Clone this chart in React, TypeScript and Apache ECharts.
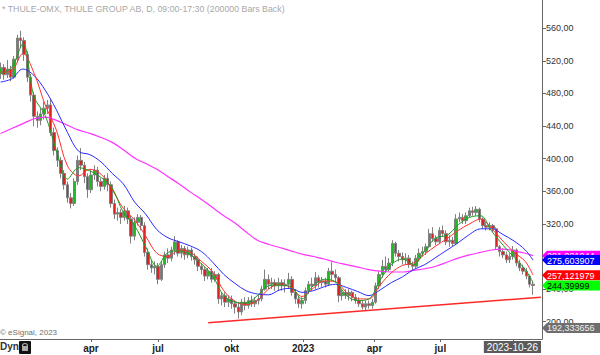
import React, { useEffect, useRef } from 'react';
import * as echarts from 'echarts';

const TITLE = '* THULE-OMX, THULE GROUP AB, D, 09:00-17:30 (200000 Bars Back)';
const COPYRIGHT = '\u00A9 eSignal, 2023';
const LAST_DATE = '2023-10-26';

// x axis: trading-day index (0 = 2021-12-01)
const quarterDays = [85, 145, 211, 275, 339, 398, 463];
const quarterLabels = ['apr', 'jul', 'okt', '2023', 'apr', 'jul', ''];
const priceTicks = [200, 240, 280, 320, 360, 400, 440, 480, 520, 560];
// 280,00 is fully hidden behind the price tags in the reference
const priceLabels = [200, 240, 320, 360, 400, 440, 480, 520, 560];

// each candle aggregates 3 trading days, first one starts at day 4
const firstBarDay = 4;
const daysPerBar = 3;

const opens = [
  505, 512, 503, 510, 500, 522, 548, 545, 528, 500, 478, 452, 447, 455, 462, 466, 432, 410, 398, 382,
  368, 352, 345, 372, 398, 392, 378, 362, 380, 386, 372, 366, 376, 368, 345, 332, 334, 328, 336, 326,
  305, 322, 328, 318, 285, 270, 266, 268, 252, 270, 282, 278, 288, 298, 284, 290, 282, 288, 280, 276,
  268, 264, 256, 262, 252, 258, 228, 232, 224, 228, 222, 218, 212, 224, 220, 226, 222, 226, 228, 240,
  252, 246, 248, 244, 248, 244, 246, 252, 236, 228, 222, 226, 238, 246, 244, 254, 248, 250, 246, 262,
  258, 254, 232, 236, 232, 236, 230, 226, 222, 218, 222, 220, 224, 244, 258, 268, 264, 272, 296, 284,
  280, 276, 278, 270, 268, 278, 284, 286, 292, 308, 302, 298, 312, 308, 298, 300, 296, 326, 328, 324,
  330, 336, 334, 338, 326, 318, 316, 318, 314, 292, 286, 282, 276, 280, 288, 272, 266, 262, 256, 246,
];
const closes = [
  512, 503, 510, 500, 522, 548, 545, 528, 500, 478, 452, 447, 455, 462, 466, 432, 410, 398, 382, 368,
  352, 345, 372, 398, 392, 378, 362, 380, 386, 372, 366, 376, 368, 345, 332, 334, 328, 336, 326, 305,
  322, 328, 318, 285, 270, 266, 268, 252, 270, 282, 278, 288, 298, 284, 290, 282, 288, 280, 276, 268,
  264, 256, 262, 252, 258, 228, 232, 224, 228, 222, 218, 212, 224, 220, 226, 222, 226, 228, 240, 252,
  246, 248, 244, 248, 244, 246, 252, 236, 228, 222, 226, 238, 246, 244, 254, 248, 250, 246, 262, 258,
  254, 232, 236, 232, 236, 230, 226, 222, 218, 222, 220, 224, 244, 258, 268, 264, 272, 296, 284, 280,
  276, 278, 270, 268, 278, 284, 286, 292, 308, 302, 298, 312, 308, 298, 300, 296, 326, 328, 324, 330,
  336, 334, 338, 326, 318, 316, 318, 314, 292, 286, 282, 276, 280, 288, 272, 266, 262, 256, 246, 244.4,
];
const lows = [
  498, 497, 499, 495, 498, 518, 536, 520, 494, 470, 440, 438, 441, 448, 455, 428, 404, 390, 376, 362,
  346, 339, 342, 368, 386, 370, 352, 358, 374, 366, 360, 362, 360, 340, 326, 324, 320, 324, 320, 296,
  300, 318, 312, 280, 264, 260, 258, 246, 250, 266, 272, 274, 282, 280, 278, 276, 278, 275, 270, 262,
  258, 250, 252, 248, 249, 222, 220, 218, 218, 216, 210, 204, 208, 214, 216, 218, 218, 221, 225, 238,
  240, 240, 238, 238, 238, 236, 240, 232, 222, 217, 216, 222, 234, 238, 240, 242, 243, 242, 244, 250,
  248, 224, 226, 228, 226, 225, 222, 218, 215, 214, 216, 216, 222, 240, 254, 260, 262, 268, 280, 274,
  270, 270, 266, 263, 266, 274, 280, 282, 290, 298, 294, 296, 304, 294, 292, 292, 294, 322, 320, 320,
  328, 330, 330, 322, 314, 312, 312, 310, 288, 280, 278, 272, 272, 276, 268, 262, 258, 252, 242, 233,
];
const highs = [
  518, 516, 521, 514, 526, 552, 557, 549, 532, 504, 482, 458, 462, 470, 472, 474, 438, 414, 402, 386,
  372, 358, 376, 404, 413, 396, 382, 386, 392, 390, 376, 380, 382, 372, 350, 340, 338, 342, 340, 330,
  328, 332, 331, 322, 290, 276, 274, 272, 274, 286, 290, 292, 305, 300, 294, 293, 292, 291, 284, 280,
  272, 268, 266, 266, 262, 260, 236, 236, 232, 232, 226, 224, 228, 230, 230, 232, 230, 233, 244, 264,
  258, 254, 252, 254, 252, 252, 260, 256, 240, 232, 230, 242, 250, 254, 261, 257, 255, 254, 266, 273,
  264, 256, 240, 240, 240, 238, 234, 230, 226, 226, 226, 228, 248, 262, 276, 280, 278, 300, 298, 288,
  285, 284, 282, 274, 282, 290, 292, 296, 314, 316, 306, 316, 318, 312, 306, 304, 332, 334, 332, 334,
  340, 341, 342, 340, 328, 322, 322, 320, 316, 294, 290, 286, 284, 293, 290, 276, 270, 266, 258, 250,
];

// moving averages every 10 trading days
const maDays = [
  4, 14, 24, 34, 44, 54, 64, 74, 84, 94, 104, 114, 124, 134, 144, 154, 164, 174, 184, 194,
  204, 214, 224, 234, 244, 254, 264, 274, 284, 294, 304, 314, 324, 334, 344, 354, 364, 374, 384, 394,
  404, 414, 424, 434, 444, 454, 464, 474, 481,
];
const ma10 = [
  504, 512, 541, 476, 453, 410, 375, 389, 385, 377, 364, 334, 318, 292, 268, 285, 287, 282, 271, 256,
  232, 224, 223, 232, 244, 245, 243, 228, 244, 252, 249, 232, 226, 228, 251, 270, 277, 270, 287, 303,
  306, 319, 328, 330, 311, 294, 279, 264, 248,
];
const ma20 = [
  506, 508, 529, 505, 466, 435, 391, 379, 387, 381, 362, 339, 325, 305, 284, 280, 288, 285, 274, 261,
  238, 225, 221, 226, 240, 246, 242, 231, 241, 250, 249, 236, 228, 228, 245, 260, 269, 272, 283, 293,
  302, 312, 320, 326, 314, 299, 285, 274, 257.1,
];
const ma50 = [
  494, 498, 510, 502, 484, 460, 432, 409, 405, 396, 382, 369, 347, 332, 313, 303, 298, 293, 286, 273,
  258, 247, 238, 234, 233, 239, 241, 236, 238, 243, 246, 242, 237, 232, 239, 248, 255, 264, 270, 279,
  288, 297, 307, 314, 314, 307, 299, 288, 275.6,
];
const ma200 = [
  431, 437, 443, 449, 451, 447, 441, 435, 431, 426, 420, 411, 401, 394, 387, 378, 369, 359, 350, 340,
  330, 321, 310, 300, 295, 291, 287, 283, 280, 277, 273, 270, 267, 264, 262, 261, 261, 263, 265, 268,
  273, 278, 282, 285, 288, 289, 287, 284, 281.02,
];

const trendDays = [190, 488];
const trendValues = [198.8, 230.1];

const tagValues = [281.021044, 275.603907, 257.121979, 244.39999, 192.333656];
const tagTexts = ['281,021044', '275,603907', '257,121979', '244,39999', '192,333656'];
const tagBg = ['#ff00ff', '#0000ff', '#ff0000', '#00ff00', '#6e6e6e'];
const tagFg = ['#ffffff', '#ffffff', '#ffffff', '#000000', '#f0f0f0'];

const X_MIN = 3.5;
const X_MAX = 489;
const Y_MIN = 178.8;
const Y_MAX = 594.7;
const FONT = '"Liberation Sans", Arial, sans-serif';

const fmt = (v: number, d: number) => v.toFixed(d).replace('.', ',');

export default function App() {
  const ref = useRef<HTMLDivElement>(null);

  useEffect(() => {
    if (!ref.current) return;
    const chart = echarts.init(ref.current, null, { renderer: 'svg' });

    const candleData = opens.map((o, k) => [
      firstBarDay + k * daysPerBar,
      o,
      closes[k],
      lows[k],
      highs[k],
    ]);

    const maLine = (name: string, vals: number[], color: string, width: number) => ({
      type: 'line',
      name,
      data: maDays.map((d, i) => [d, vals[i]]),
      showSymbol: false,
      smooth: 0.35,
      silent: true,
      z: 3,
      lineStyle: { width, color },
    });

    chart.setOption({
      animation: false,
      grid: { left: 0, right: 58, top: 0, bottom: 16 },
      xAxis: {
        type: 'value',
        min: X_MIN,
        max: X_MAX,
        axisLine: { show: true, onZero: false, lineStyle: { color: '#666', width: 1 } },
        axisTick: { show: true, customValues: quarterDays, length: 3, lineStyle: { color: '#666' } },
        axisLabel: {
          customValues: quarterDays.filter((_, i) => quarterLabels[i] !== ''),
          formatter: (v: number) => {
            const idx = quarterDays.indexOf(v);
            return idx >= 0 ? quarterLabels[idx] : '';
          },
          fontSize: 10,
          fontWeight: 'bold',
          color: '#222',
          margin: 4,
          fontFamily: FONT,
        },
        splitLine: { show: false },
      },
      yAxis: {
        type: 'value',
        position: 'right',
        min: Y_MIN,
        max: Y_MAX,
        axisLine: { show: true, lineStyle: { color: '#666', width: 1 } },
        axisTick: { show: true, customValues: priceTicks, length: 4, lineStyle: { color: '#666' } },
        axisLabel: {
          customValues: priceLabels,
          formatter: (v: number) => fmt(v, 2),
          fontSize: 9,
          color: '#333',
          margin: 4,
          fontFamily: FONT,
        },
        splitLine: { show: false },
      },
      series: [
        {
          type: 'candlestick',
          data: candleData,
          encode: { x: 0, y: [1, 2, 3, 4] },
          barWidth: 2.9,
          silent: true,
          z: 2,
          itemStyle: {
            color: '#22b822',
            color0: '#dd2020',
            borderColor: '#808080',
            borderColor0: '#808080',
            borderWidth: 1,
          },
        },
        maLine('MA200', ma200, '#ff33ff', 1.2),
        maLine('MA50', ma50, '#2a2aff', 1),
        maLine('MA20', ma20, '#ff3030', 1),
        maLine('MA10', ma10, '#1e9e1e', 1),
        {
          type: 'line',
          data: trendDays.map((d, i) => [d, trendValues[i]]),
          showSymbol: false,
          silent: true,
          z: 4,
          lineStyle: { width: 1.5, color: '#ff2828' },
        },
      ],
    });

    const axisX = chart.convertToPixel({ xAxisIndex: 0 }, X_MAX) as number;
    const bottomY = chart.convertToPixel({ yAxisIndex: 0 }, Y_MIN) as number;

    const tagEls = tagValues.map((v, i) => {
      const y = chart.convertToPixel({ yAxisIndex: 0 }, v) as number;
      const h = 5;
      return {
        type: 'group',
        z: 20 + i,
        children: [
          {
            type: 'polygon',
            z: 20 + i,
            shape: {
              points: [
                [axisX, y],
                [axisX + 5, y - h],
                [600, y - h],
                [600, y + h],
                [axisX + 5, y + h],
              ],
            },
            style: { fill: tagBg[i] },
          },
          {
            type: 'text',
            z: 21 + i,
            x: axisX + 5,
            y: y + 0.5,
            style: {
              text: tagTexts[i],
              fill: tagFg[i],
              fontSize: 9,
              fontFamily: FONT,
              align: 'left',
              verticalAlign: 'middle',
              textAlign: 'left',
              textVerticalAlign: 'middle',
            },
          },
        ],
      };
    });

    chart.setOption({
      graphic: [
        {
          type: 'text',
          x: 2,
          y: 4,
          z: 30,
          style: { text: TITLE, fill: '#a8a8a8', fontSize: 8.8, fontFamily: FONT },
        },
        {
          type: 'text',
          x: 0,
          y: bottomY - 11,
          z: 30,
          style: { text: COPYRIGHT, fill: '#707070', fontSize: 8, fontFamily: FONT },
        },
        {
          type: 'text',
          x: 0,
          y: bottomY + 2,
          z: 30,
          style: { text: 'Dyn', fill: '#333', fontSize: 10, fontWeight: 'bold', fontFamily: FONT },
        },
        {
          type: 'rect',
          z: 30,
          shape: { x: 19, y: bottomY + 2, width: 12, height: 13, r: 1 },
          style: { fill: '#111' },
        },
        {
          type: 'arc',
          z: 31,
          shape: { cx: 25, cy: bottomY + 7, r: 2.5, startAngle: Math.PI, endAngle: 0, clockwise: true },
          style: { stroke: '#aaa', lineWidth: 1.2, fill: 'none' },
        },
        {
          type: 'rect',
          z: 31,
          shape: { x: 22, y: bottomY + 7, width: 6, height: 5 },
          style: { fill: '#aaa' },
        },
        {
          type: 'text',
          z: 30,
          x: axisX - 1,
          y: bottomY + 8,
          style: {
            text: LAST_DATE,
            fill: '#ffffff',
            fontSize: 10,
            fontFamily: FONT,
            backgroundColor: '#5a5a5a',
            padding: [1, 3, 1, 3],
            align: 'right',
            verticalAlign: 'middle',
            textAlign: 'right',
            textVerticalAlign: 'middle',
          },
        },
        ...tagEls,
      ],
    });

    return () => chart.dispose();
  }, []);

  return (
    <div
      ref={ref}
      style={{ position: 'absolute', left: 0, top: 0, width: 600, height: 355, background: '#fff' }}
    />
  );
}
